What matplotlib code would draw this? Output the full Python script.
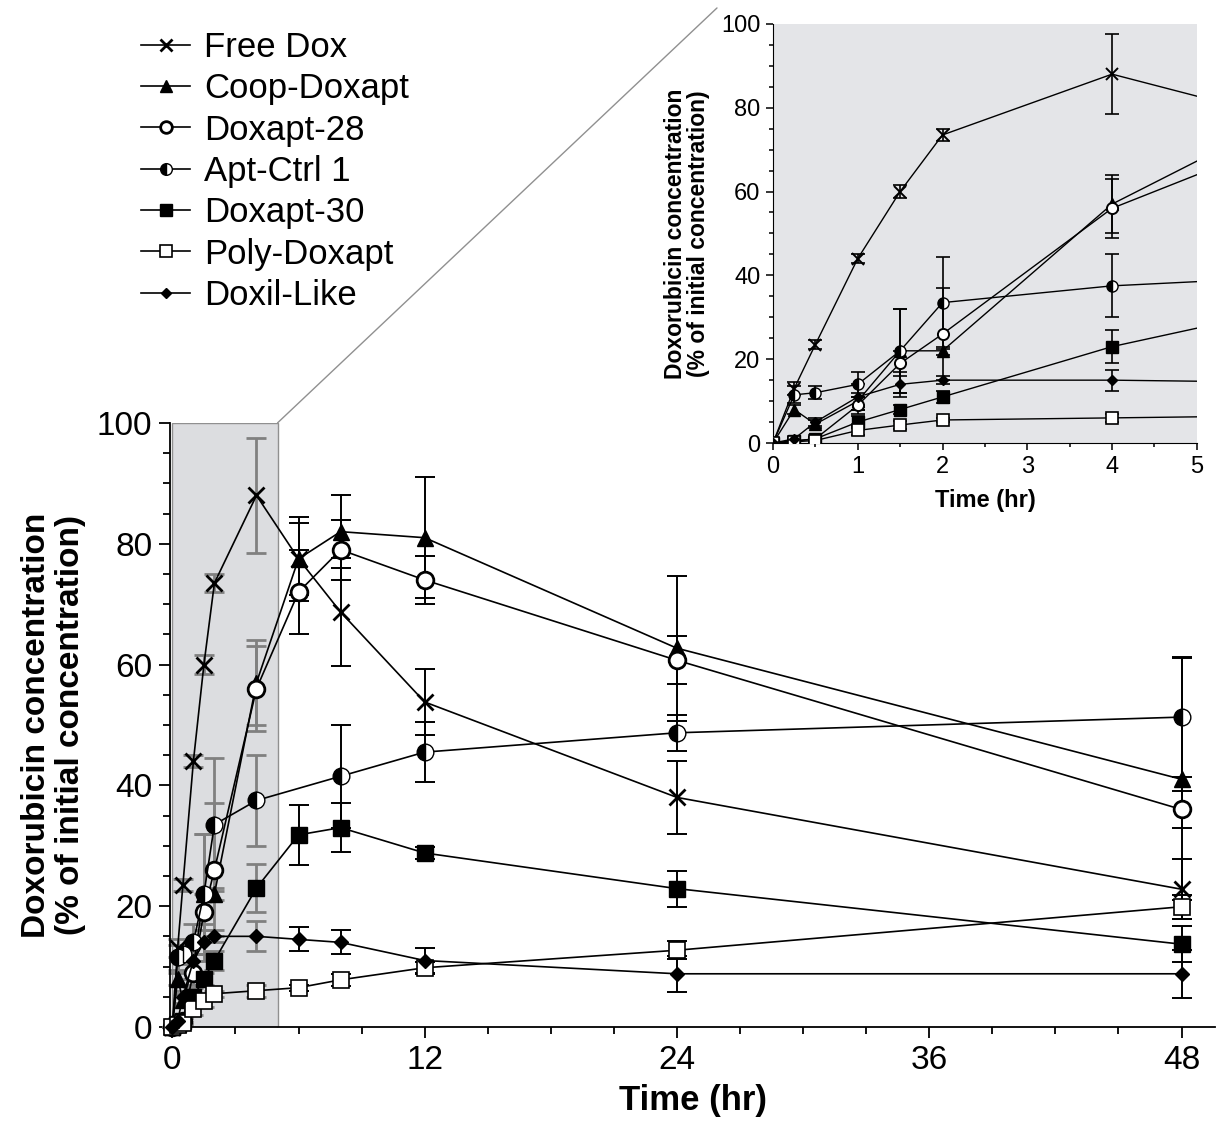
import numpy as np
import matplotlib
matplotlib.use("Agg")
from matplotlib import pyplot as plt
from matplotlib.patches import Rectangle, ConnectionPatch
from matplotlib.ticker import MultipleLocator

plt.rcParams['font.family'] = ['Liberation Sans', 'DejaVu Sans']

# time points (hr)
t = [0, 0.25, 0.5, 1, 1.5, 2, 4, 6, 8, 12, 24, 48]
t_ctrl = [0, 0.25, 0.5, 1, 1.5, 2, 4, 8, 12, 24, 48]

free_dox = [0, 13, 23.5, 44, 60, 73.5, 88, 77.5, 68.7, 53.8, 38, 22.8]
free_dox_err = [0, 1.5, 1, 1, 1.5, 1.5, 9.5, 6, 9, 5.5, 6, 5]

coop = [0, 8, 4.5, 10, 22, 22, 57, 77.5, 82, 81, 62.7, 41]
coop_err = [0, 1, 1, 2, 10, 1, 7, 7, 6, 10, 12, 20]

doxapt28 = [0, 0.5, 1, 9, 19, 26, 56, 72, 79, 74, 60.7, 36]
doxapt28_err = [0, 0.5, 0.5, 2, 3, 11, 7, 7, 5, 4, 4, 3]

apt_ctrl = [0, 11.5, 12, 14, 22, 33.5, 37.5, 41.5, 45.5, 48.7, 51.3]
apt_ctrl_err = [0, 2, 1.5, 3, 10, 11, 7.5, 8.5, 5, 3, 10]

doxapt30 = [0, 0.5, 1, 5, 8, 11, 23, 31.8, 33, 28.8, 22.9, 13.7]
doxapt30_err = [0, 0.5, 0.5, 1.5, 1, 1.5, 4, 5, 4, 1, 3, 3]

poly = [0, 0.3, 0.6, 3, 4.3, 5.5, 6, 6.5, 7.8, 9.8, 12.7, 19.9]
poly_err = [0, 0.3, 0.3, 1, 1, 0.5, 1, 0.5, 1, 1, 1.5, 2]

doxil = [0, 1, 5, 11, 14, 15, 15, 14.5, 14, 11, 8.8, 8.8]
doxil_err = [0, 0.5, 1, 3, 3, 1, 2.5, 2, 2, 2, 3, 4]

series = [
    ("Free Dox", t, free_dox, free_dox_err, dict(marker="x", mfc="black", mew=2.0)),
    ("Coop-Doxapt", t, coop, coop_err, dict(marker="^", mfc="black")),
    ("Doxapt-28", t, doxapt28, doxapt28_err, dict(marker="o", mfc="white", mew=2.0)),
    ("Apt-Ctrl 1", t_ctrl, apt_ctrl, apt_ctrl_err,
     dict(marker="o", fillstyle="left", mfc="black", markerfacecoloralt="white", mew=1.0)),
    ("Doxapt-30", t, doxapt30, doxapt30_err, dict(marker="s", mfc="black")),
    ("Poly-Doxapt", t, poly, poly_err, dict(marker="s", mfc="white", mew=1.2)),
    ("Doxil-Like", t, doxil, doxil_err, dict(marker="D", mfc="black", scale=0.6)),
]

fig = plt.figure(figsize=(12.25, 11.36), dpi=100)

# ---- main axes ----
ax = fig.add_axes([0.139, 0.096, 0.853, 0.5317])
ax.add_patch(Rectangle((0, 0), 5, 100, facecolor="#dcdde0", edgecolor="#909090",
                       lw=1.0, zorder=0))
handles = []
for name, x, y, e, st in series:
    st = dict(st)
    sc = st.pop("scale", 1.0)
    x = np.array(x)
    y = np.array(y)
    e = np.array(e)
    inside = x <= 5
    # error bars inside the shaded zoom box look grey in the original
    ax.errorbar(x[inside], y[inside], yerr=e[inside], fmt="none", ecolor="#808080",
                elinewidth=2.0, capsize=7, capthick=2.0, zorder=2, clip_on=False)
    ax.errorbar(x[~inside], y[~inside], yerr=e[~inside], fmt="none", ecolor="black",
                elinewidth=1.4, capsize=7, capthick=1.4, zorder=2, clip_on=False)
    h, = ax.plot(x, y, color="black", lw=1.2, ms=12 * sc, mec="black",
                 zorder=3, clip_on=False, label=name, **st)
    handles.append(h)

ax.set_xlim(-0.1, 49.6)
ax.set_ylim(0, 100)
ax.xaxis.set_major_locator(MultipleLocator(12))
ax.xaxis.set_minor_locator(MultipleLocator(3))
ax.yaxis.set_major_locator(MultipleLocator(20))
ax.yaxis.set_minor_locator(MultipleLocator(5))
ax.tick_params(which="major", length=8, width=1.3, labelsize=24, pad=5)
ax.tick_params(which="minor", length=5, width=1.3)
for s in ["top", "right"]:
    ax.spines[s].set_visible(False)
for s in ["left", "bottom"]:
    ax.spines[s].set_linewidth(1.3)
ax.set_xlabel("Time (hr)", fontsize=25, fontweight="bold", labelpad=6)
ax.set_ylabel("Doxorubicin concentration\n(% of initial concentration)",
              fontsize=24, fontweight="bold", labelpad=8, linespacing=1.1)

leg = fig.legend(handles=handles, loc="upper left", bbox_to_anchor=(0.104, 0.985),
                 frameon=False, fontsize=25, handlelength=1.4, handletextpad=0.4,
                 labelspacing=0.24, borderaxespad=0, markerscale=0.7)

# ---- inset ----
axi = fig.add_axes([0.631, 0.610, 0.346, 0.369])
axi.set_facecolor("#e4e5e8")
for name, x, y, e, st in series:
    st = dict(st)
    sc = st.pop("scale", 1.0)
    if st.get("mew", 1) > 1.3:
        st["mew"] = 1.4
    axi.errorbar(x, y, yerr=e, fmt="none", ecolor="black", elinewidth=1.2,
                 capsize=5, capthick=1.2, zorder=2)
    axi.plot(x, y, color="black", lw=1.0, ms=8 * sc, mec="black", zorder=3, **st)
axi.set_xlim(0, 5)
axi.set_ylim(0, 100)
axi.xaxis.set_major_locator(MultipleLocator(1))
axi.xaxis.set_minor_locator(MultipleLocator(0.5))
axi.yaxis.set_major_locator(MultipleLocator(20))
axi.yaxis.set_minor_locator(MultipleLocator(5))
axi.tick_params(which="major", length=5, width=1.1, labelsize=17, pad=4)
axi.tick_params(which="minor", length=3, width=1.1)
for s in ["top", "right"]:
    axi.spines[s].set_visible(False)
axi.set_xlabel("Time (hr)", fontsize=17, fontweight="bold", labelpad=8)
axi.set_ylabel("Doxorubicin concentration\n(% of initial concentration)",
               fontsize=16.5, fontweight="bold", labelpad=8, linespacing=1.0)

# zoom guide lines
for xy_fig, yv in [((0.5853, 0.993), 100), ((0.963, 0.571), 0)]:
    con = ConnectionPatch(xyA=(5, yv), coordsA="data", axesA=ax,
                          xyB=xy_fig, coordsB="figure fraction",
                          color="#909090", lw=1.0, zorder=0)
    fig.add_artist(con)

fig.savefig("out.png", dpi=100)
